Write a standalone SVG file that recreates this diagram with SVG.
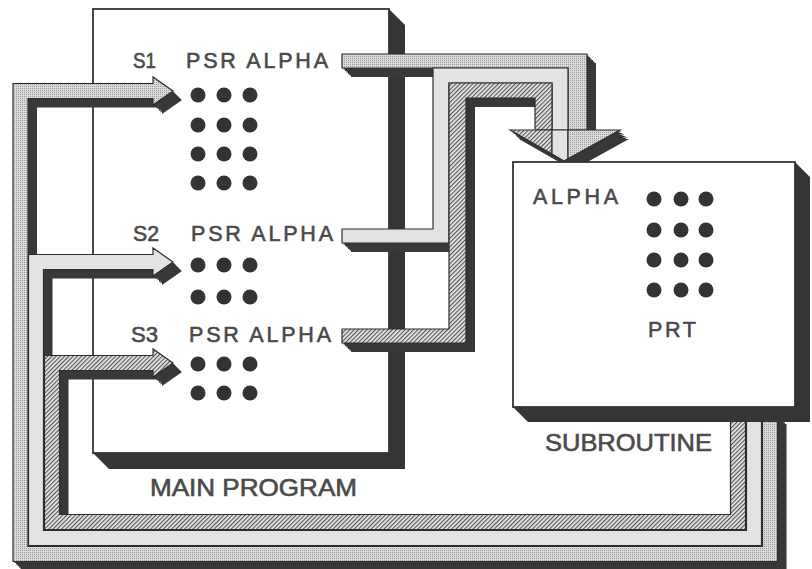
<svg xmlns="http://www.w3.org/2000/svg" xmlns:xlink="http://www.w3.org/1999/xlink" width="812" height="569" viewBox="0 0 812 569">
<style>
.bg{fill:#ffffff}
.face{fill:#ffffff;stroke:#333333;stroke-width:1.8}
.side{fill:#353535}
.shadow{fill:#383838}
.band{stroke:#2e2e2e;stroke-width:1.2;stroke-linejoin:miter}
.stip{fill:url(#stip)}
.light{fill:#e3e3e3}
.hatch{fill:url(#hatch)}
.lbl{font-family:"Liberation Sans",Arial,Helvetica,sans-serif;fill:#4a4a4a;stroke:#4a4a4a;stroke-width:0.6;font-size:21.5px}
.big{font-size:24px}
.dot{fill:#333333}
</style>
<defs>
<pattern id="stip" width="2" height="2" patternUnits="userSpaceOnUse">
<rect width="2" height="2" fill="#dadada"/>
<rect width="1" height="1" fill="#9c9c9c"/>
</pattern>
<pattern id="hatch" width="3" height="3" patternUnits="userSpaceOnUse" patternTransform="rotate(45)">
<rect width="3" height="3" fill="#ececec"/>
<rect width="1.2" height="3" fill="#555555"/>
</pattern>
<polygon id="r1" points="777.5,415 777.5,561.5 13,561.5 13,83.5 153,83.5 153,77 173,91 153,105 153,98.5 28,98.5 28,546.5 762.5,546.5 762.5,415"/>
<polygon id="r2" points="761.5,415 761.5,545.5 28.5,545.5 28.5,254.5 153,254.5 153,248 173,262 153,276 153,269.5 43.5,269.5 43.5,530.5 746.5,530.5 746.5,415"/>
<polygon id="r3" points="745.5,415 745.5,529.5 44.5,529.5 44.5,355.5 153,355.5 153,349 173,363 153,377 153,370.5 59.5,370.5 59.5,514.5 730.5,514.5 730.5,415"/>
<polygon id="c1" points="342,54 587,54 587,130 568,130 568,68 342,68"/>
<polygon id="c2" points="342,229 433,229 433,68 568,68 568,130 552,130 552,83 449,83 449,243 342,243"/>
<polygon id="c3" points="342,329 449,329 449,83 552,83 552,130 535,130 535,98 466,98 466,343 342,343"/>
<polygon id="head" points="510,130 620,130 564,161"/>
<g id="allc">
<use xlink:href="#r1"/><use xlink:href="#r2"/><use xlink:href="#r3"/>
<use xlink:href="#c1"/><use xlink:href="#c2"/><use xlink:href="#c3"/><use xlink:href="#head"/>
</g>
</defs>
<rect class="bg" width="812" height="569"/>

<g id="main-program">
<polygon class="side" points="389,9 405,25 405,469 109,469 93,453 389,453"/>
<rect class="face" x="93" y="9" width="296" height="444"/>
<text class="lbl" x="133" y="68" textLength="23" lengthAdjust="spacingAndGlyphs">S1</text>
<text class="lbl" x="186" y="68" textLength="142" lengthAdjust="spacing">PSR ALPHA</text>
<text class="lbl" x="133" y="241" textLength="26" lengthAdjust="spacingAndGlyphs">S2</text>
<text class="lbl" x="191" y="241" textLength="142" lengthAdjust="spacing">PSR ALPHA</text>
<text class="lbl" x="131" y="342" textLength="27" lengthAdjust="spacingAndGlyphs">S3</text>
<text class="lbl" x="189" y="342" textLength="142" lengthAdjust="spacing">PSR ALPHA</text>
<g class="dot">
<circle cx="198" cy="95" r="7.5"/><circle cx="224" cy="95" r="7.5"/><circle cx="250" cy="95" r="7.5"/>
<circle cx="198" cy="125" r="7.5"/><circle cx="224" cy="125" r="7.5"/><circle cx="250" cy="125" r="7.5"/>
<circle cx="198" cy="154" r="7.5"/><circle cx="224" cy="154" r="7.5"/><circle cx="250" cy="154" r="7.5"/>
<circle cx="198" cy="183" r="7.5"/><circle cx="224" cy="183" r="7.5"/><circle cx="250" cy="183" r="7.5"/>
<circle cx="198" cy="265" r="7.5"/><circle cx="224" cy="265" r="7.5"/><circle cx="250" cy="265" r="7.5"/>
<circle cx="198" cy="297" r="7.5"/><circle cx="224" cy="297" r="7.5"/><circle cx="250" cy="297" r="7.5"/>
<circle cx="198" cy="364" r="7.5"/><circle cx="224" cy="364" r="7.5"/><circle cx="250" cy="364" r="7.5"/>
<circle cx="198" cy="393" r="7.5"/><circle cx="224" cy="393" r="7.5"/><circle cx="250" cy="393" r="7.5"/>
</g>
<text class="lbl big" x="150" y="496" textLength="207" lengthAdjust="spacingAndGlyphs">MAIN PROGRAM</text>
</g>

<g id="connectors">
<g class="shadow">
<use xlink:href="#allc" transform="translate(1.5,1.5)"/>
<use xlink:href="#allc" transform="translate(3,3)"/>
<use xlink:href="#allc" transform="translate(4.5,4.5)"/>
<use xlink:href="#allc" transform="translate(6,6)"/>
<use xlink:href="#allc" transform="translate(7.5,7.5)"/>
<use xlink:href="#allc" transform="translate(9,9)"/>
</g>
<use xlink:href="#r1" class="band stip"/>
<use xlink:href="#r2" class="band light"/>
<use xlink:href="#r3" class="band hatch"/>
<use xlink:href="#c1" class="band stip"/>
<use xlink:href="#c2" class="band light"/>
<use xlink:href="#c3" class="band hatch"/>
<polygon class="band hatch" points="510,130 552,130 552,154.1"/>
<polygon class="band light" points="552,130 568,130 568,158.8 564,161 552,154.1"/>
<polygon class="band stip" points="568,130 620,130 568,158.8"/>
</g>

<g id="subroutine">
<polygon class="side" points="795,162 810,177 810,422 528,422 513,407 795,407"/>
<rect class="face" x="513" y="162" width="282" height="245"/>
<text class="lbl" x="533" y="204" textLength="85" lengthAdjust="spacing">ALPHA</text>
<g class="dot">
<circle cx="654" cy="199" r="7.5"/><circle cx="681" cy="199" r="7.5"/><circle cx="706" cy="199" r="7.5"/>
<circle cx="654" cy="230" r="7.5"/><circle cx="681" cy="230" r="7.5"/><circle cx="706" cy="230" r="7.5"/>
<circle cx="654" cy="260" r="7.5"/><circle cx="681" cy="260" r="7.5"/><circle cx="706" cy="260" r="7.5"/>
<circle cx="654" cy="290" r="7.5"/><circle cx="681" cy="290" r="7.5"/><circle cx="706" cy="290" r="7.5"/>
</g>
<text class="lbl" x="648" y="337" textLength="48" lengthAdjust="spacing">PRT</text>
<text class="lbl big" x="545" y="451" textLength="167" lengthAdjust="spacingAndGlyphs">SUBROUTINE</text>
</g>
</svg>
